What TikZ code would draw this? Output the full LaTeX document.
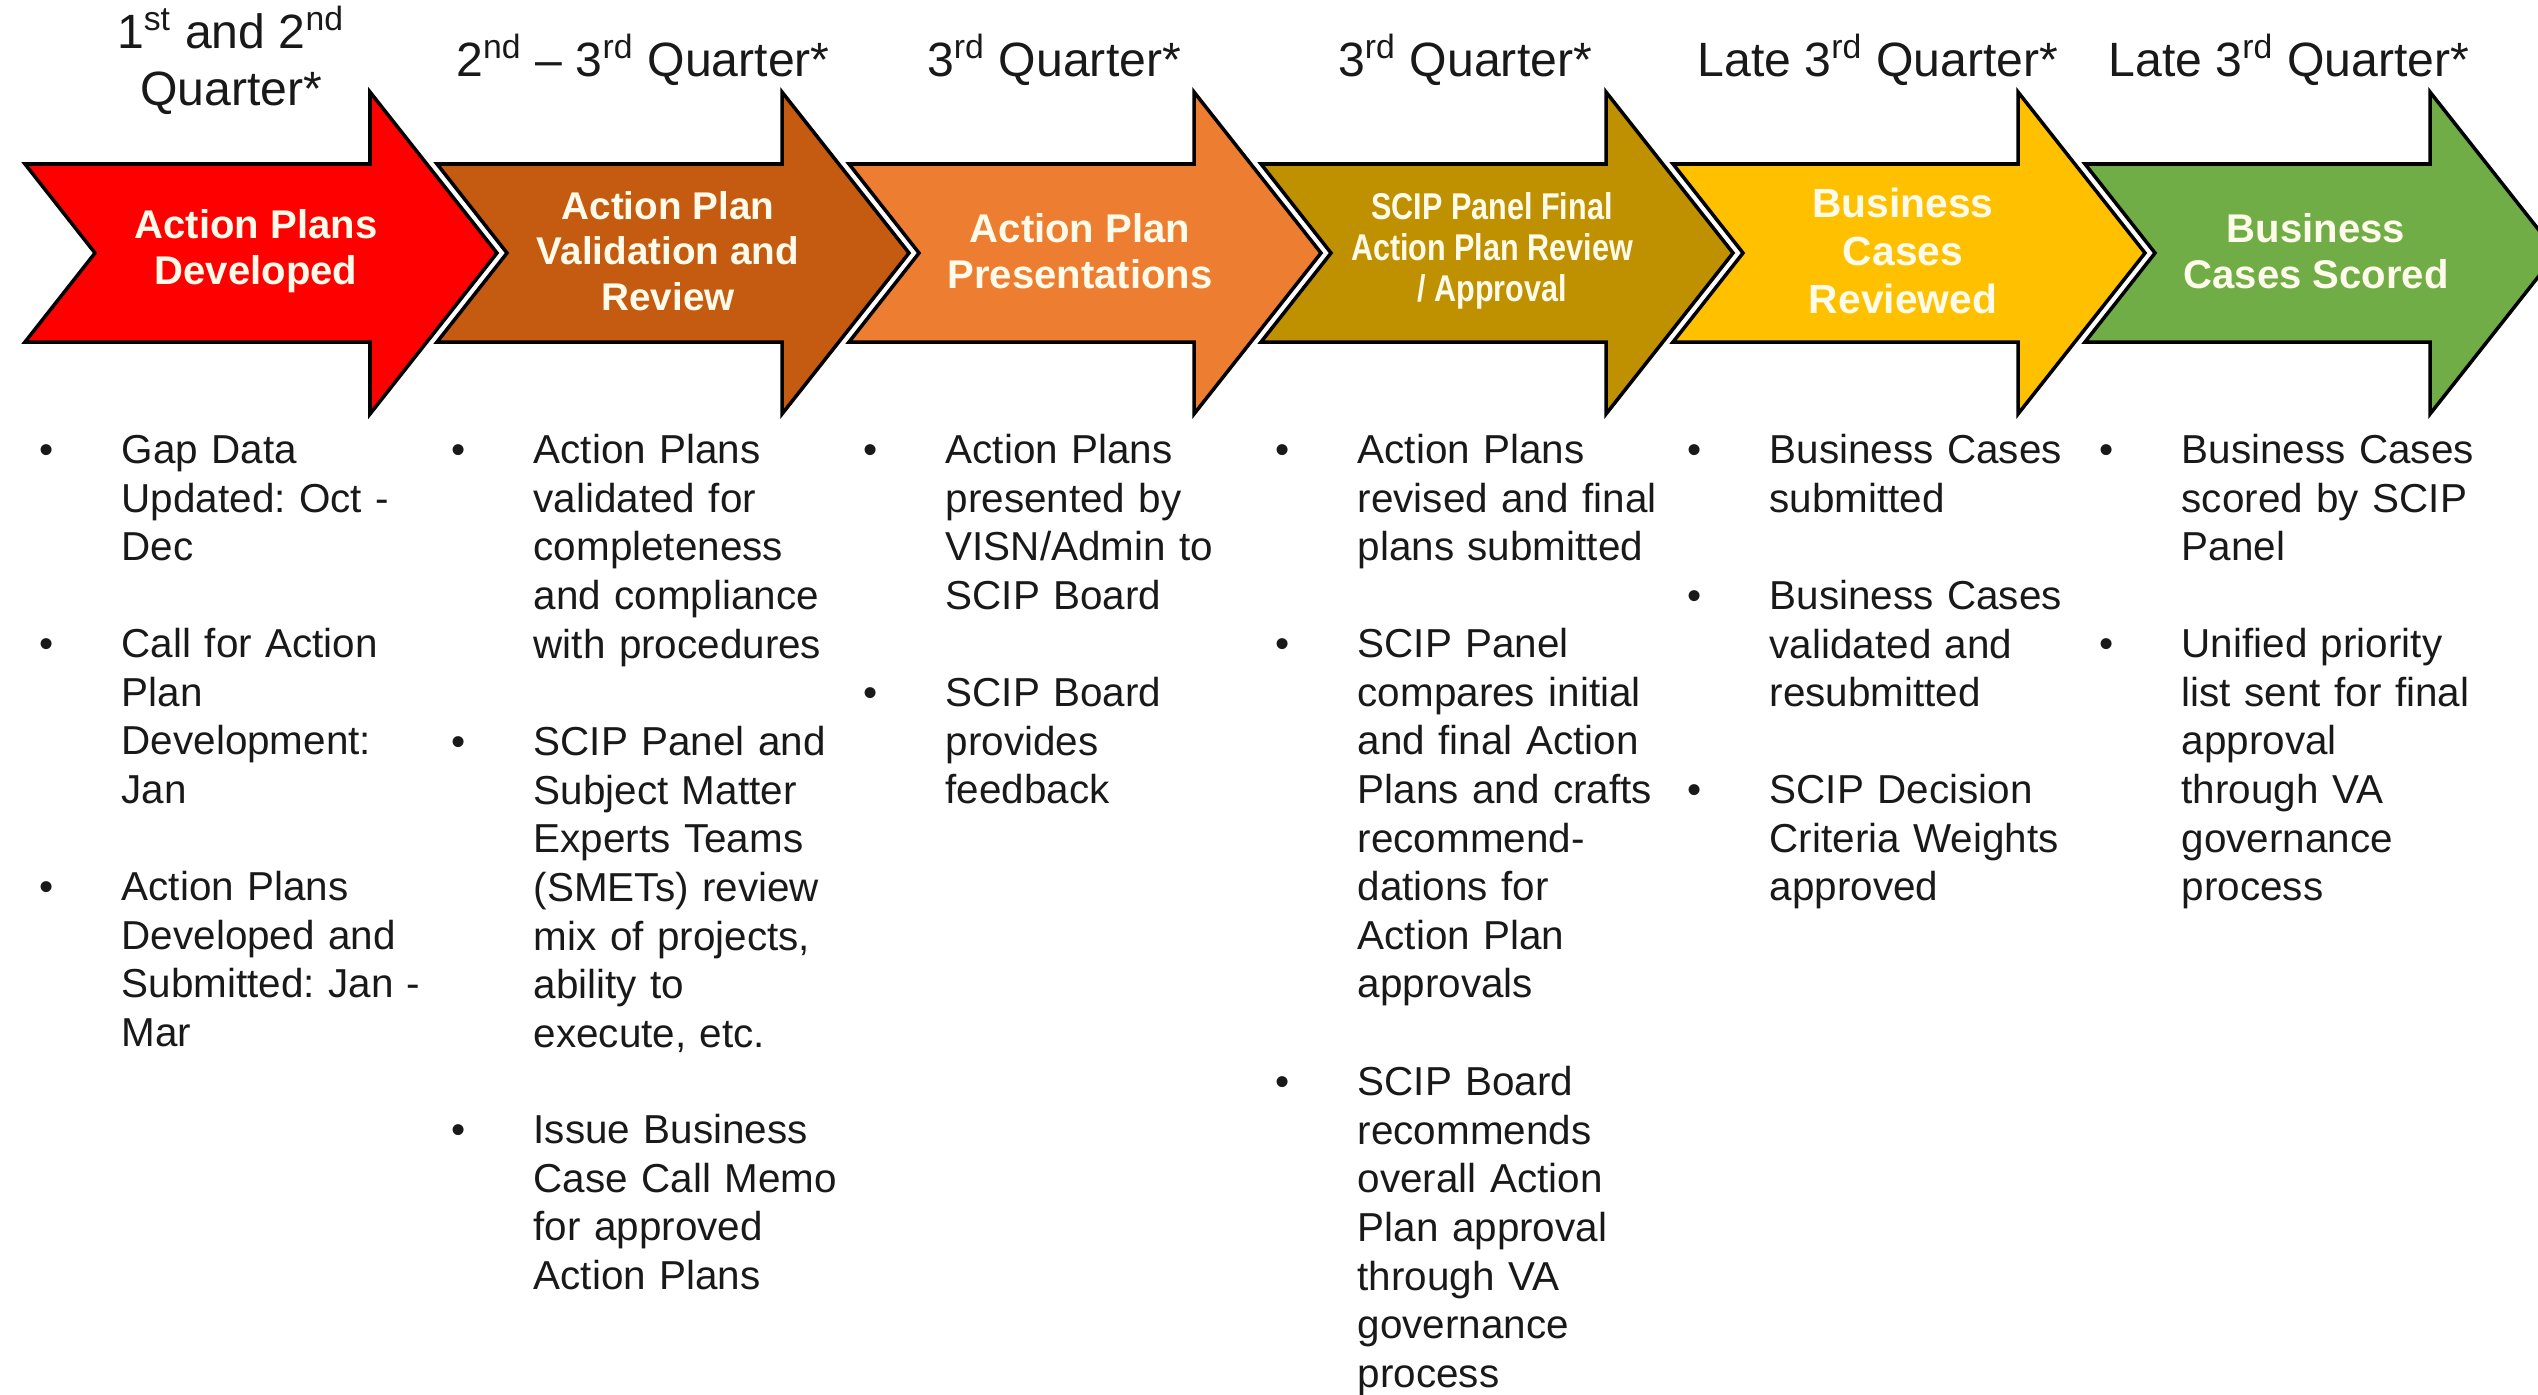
\documentclass[tikz,border=0pt]{standalone}
\usepackage{fontspec}
\setmainfont{Liberation Sans}
\newfontfamily\narrowfont[FakeStretch=0.82]{Liberation Sans}
\definecolor{stageA}{HTML}{FF0000}
\definecolor{stageB}{HTML}{C55A11}
\definecolor{stageC}{HTML}{ED7D31}
\definecolor{stageD}{HTML}{BF9000}
\definecolor{stageE}{HTML}{FFC000}
\definecolor{stageF}{HTML}{70AD47}
\definecolor{stagefont}{HTML}{FFFBEA}
\frenchspacing

\begin{document}
\begin{tikzpicture}
\tikzstyle{stage} = [draw=black, line width=1pt, line join=miter]
\tikzstyle{quarter} = [align=center, text=black!90, font=\fontsize{13.7}{16.2}\selectfont]
\tikzstyle{stagetext} = [align=center, text=stagefont, font=\bfseries\fontsize{11.4}{13.2}\selectfont]
\tikzstyle{bullettext} = [anchor=north west, inner sep=0pt, text width=3.4cm, align=left, text=black!90, font=\fontsize{11.5}{13.83}\selectfont, execute at begin node=\strut]
\tikzstyle{bulletdot} = [anchor=north, inner sep=0pt, xshift=-0.74cm, text=black!90, font=\fontsize{11.5}{13.83}\selectfont, execute at begin node=\strut]
\path[use as bounding box, clip] (0,0) rectangle (25.38,-13.94);

\draw[stage, fill=stageA] (0.25,-1.64) -- (3.70,-1.64) -- (3.70,-0.92) -- (4.97,-2.53) -- (3.70,-4.14) -- (3.70,-3.42) -- (0.25,-3.42) -- (0.95,-2.53) -- cycle;
\draw[stage, fill=stageB, xshift=4.12cm] (0.25,-1.64) -- (3.70,-1.64) -- (3.70,-0.92) -- (4.97,-2.53) -- (3.70,-4.14) -- (3.70,-3.42) -- (0.25,-3.42) -- (0.95,-2.53) -- cycle;
\draw[stage, fill=stageC, xshift=8.24cm] (0.25,-1.64) -- (3.70,-1.64) -- (3.70,-0.92) -- (4.97,-2.53) -- (3.70,-4.14) -- (3.70,-3.42) -- (0.25,-3.42) -- (0.95,-2.53) -- cycle;
\draw[stage, fill=stageD, xshift=12.36cm] (0.25,-1.64) -- (3.70,-1.64) -- (3.70,-0.92) -- (4.97,-2.53) -- (3.70,-4.14) -- (3.70,-3.42) -- (0.25,-3.42) -- (0.95,-2.53) -- cycle;
\draw[stage, fill=stageE, xshift=16.48cm] (0.25,-1.64) -- (3.70,-1.64) -- (3.70,-0.92) -- (4.97,-2.53) -- (3.70,-4.14) -- (3.70,-3.42) -- (0.25,-3.42) -- (0.95,-2.53) -- cycle;
\draw[stage, fill=stageF, xshift=20.60cm] (0.25,-1.64) -- (3.70,-1.64) -- (3.70,-0.92) -- (4.97,-2.53) -- (3.70,-4.14) -- (3.70,-3.42) -- (0.25,-3.42) -- (0.95,-2.53) -- cycle;

\node (q1) [quarter] at (2.31,-0.60) {1\textsuperscript{st} and 2\textsuperscript{nd}\\Quarter*};
\node (q2) [quarter] at (6.43,-0.60) {2\textsuperscript{nd} \textendash{} 3\textsuperscript{rd} Quarter*};
\node (q3) [quarter] at (10.54,-0.60) {3\textsuperscript{rd} Quarter*};
\node (q4) [quarter] at (14.65,-0.60) {3\textsuperscript{rd} Quarter*};
\node (q5) [quarter] at (18.78,-0.60) {Late 3\textsuperscript{rd} Quarter*};
\node (q6) [quarter] at (22.89,-0.60) {Late 3\textsuperscript{rd} Quarter*};

\node (s1) [stagetext] at (2.56,-2.51) {Action Plans\\Developed};
\node (s2) [stagetext, font=\bfseries\fontsize{11}{13}\selectfont] at (6.68,-2.51) {Action Plan\\Validation and\\Review};
\node (s3) [stagetext] at (10.80,-2.51) {Action Plan\\Presentations};
\node (s4) [stagetext, font=\narrowfont\bfseries\fontsize{10.6}{11.7}\selectfont] at (14.92,-2.51) {SCIP Panel Final\\Action Plan Review\\/ Approval};
\node (s5) [stagetext, font=\bfseries\fontsize{11.6}{13.7}\selectfont] at (19.03,-2.51) {Business\\Cases\\Reviewed};
\node (s6) [stagetext] at (23.16,-2.51) {Business\\Cases Scored};

\node (t1a) [bullettext] at (1.21,-4.29) {Gap Data\\Updated: Oct -\\Dec};
\node (t1b) [bullettext] at (1.21,-6.23) {Call for Action\\Plan\\Development:\\Jan};
\node (t1c) [bullettext] at (1.21,-8.66) {Action Plans\\Developed and\\Submitted: Jan -\\Mar};
\node (t2a) [bullettext] at (5.33,-4.29) {Action Plans\\validated for\\completeness\\and compliance\\with procedures};
\node (t2b) [bullettext] at (5.33,-7.21) {SCIP Panel and\\Subject Matter\\Experts Teams\\(SMETs) review\\mix of projects,\\ability to\\execute, etc.};
\node (t2c) [bullettext] at (5.33,-11.09) {Issue Business\\Case Call Memo\\for approved\\Action Plans};
\node (t3a) [bullettext] at (9.45,-4.29) {Action Plans\\presented by\\VISN/Admin to\\SCIP Board};
\node (t3b) [bullettext] at (9.45,-6.72) {SCIP Board\\provides\\feedback};
\node (t4a) [bullettext] at (13.57,-4.29) {Action Plans\\revised and final\\plans submitted};
\node (t4b) [bullettext] at (13.57,-6.23) {SCIP Panel\\compares initial\\and final Action\\Plans and crafts\\recommend-\\dations for\\Action Plan\\approvals};
\node (t4c) [bullettext] at (13.57,-10.61) {SCIP Board\\recommends\\overall Action\\Plan approval\\through VA\\governance\\process};
\node (t5a) [bullettext] at (17.69,-4.29) {Business Cases\\submitted};
\node (t5b) [bullettext] at (17.69,-5.75) {Business Cases\\validated and\\resubmitted};
\node (t5c) [bullettext] at (17.69,-7.69) {SCIP Decision\\Criteria Weights\\approved};
\node (t6a) [bullettext] at (21.81,-4.29) {Business Cases\\scored by SCIP\\Panel};
\node (t6b) [bullettext] at (21.81,-6.23) {Unified priority\\list sent for final\\approval\\through VA\\governance\\process};

\node (d1a) [bulletdot] at (t1a.north west) {\textbullet};
\node (d1b) [bulletdot] at (t1b.north west) {\textbullet};
\node (d1c) [bulletdot] at (t1c.north west) {\textbullet};
\node (d2a) [bulletdot] at (t2a.north west) {\textbullet};
\node (d2b) [bulletdot] at (t2b.north west) {\textbullet};
\node (d2c) [bulletdot] at (t2c.north west) {\textbullet};
\node (d3a) [bulletdot] at (t3a.north west) {\textbullet};
\node (d3b) [bulletdot] at (t3b.north west) {\textbullet};
\node (d4a) [bulletdot] at (t4a.north west) {\textbullet};
\node (d4b) [bulletdot] at (t4b.north west) {\textbullet};
\node (d4c) [bulletdot] at (t4c.north west) {\textbullet};
\node (d5a) [bulletdot] at (t5a.north west) {\textbullet};
\node (d5b) [bulletdot] at (t5b.north west) {\textbullet};
\node (d5c) [bulletdot] at (t5c.north west) {\textbullet};
\node (d6a) [bulletdot] at (t6a.north west) {\textbullet};
\node (d6b) [bulletdot] at (t6b.north west) {\textbullet};
\end{tikzpicture}
\end{document}
